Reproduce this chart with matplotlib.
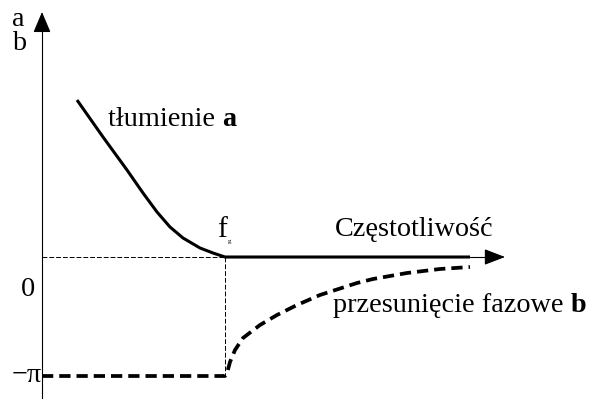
import matplotlib
matplotlib.use("Agg")
import matplotlib.pyplot as plt

# Schematic attenuation (a) and phase shift (b) versus frequency
# x: frequency (arbitrary units), axis origin at 0; fg at 183
f_att = [35, 61, 85, 101, 115, 128, 141, 158, 171, 183, 428]
att = [157, 120, 87, 64, 45, 30, 19, 9, 4, 0, 0]

f_phase = [0, 183, 185, 188, 193, 201, 218, 235, 255, 278, 315, 331, 365, 398, 428]
phase = [-119, -119, -116, -105, -93, -81, -68, -58, -48, -38, -26, -22, -16, -12, -10]

f_g = 183
level_minus_pi = -119

plt.rcParams['font.family'] = ['Liberation Serif', 'DejaVu Serif']
fig = plt.figure(figsize=(5.93, 4.01), dpi=100)
ax = fig.add_axes([0, 0, 1, 1])
ax.set_xlim(-42, 551)
ax.set_ylim(-144, 257)
ax.axis('off')

# axes with arrow heads
ax.plot([0, 0], [-141, 232], color='black', lw=0.8)
ax.annotate('', xy=(0, 245), xytext=(0, 228),
            arrowprops=dict(arrowstyle='-|>,head_length=1.3,head_width=0.55',
                            color='black', lw=0.8, shrinkA=0, shrinkB=0))
ax.plot([f_g, 450], [0, 0], color='black', lw=0.8)
ax.annotate('', xy=(463, 0), xytext=(446, 0),
            arrowprops=dict(arrowstyle='-|>,head_length=1.3,head_width=0.5',
                            color='black', lw=0.8, shrinkA=0, shrinkB=0))

# guide lines at fg
ax.plot([0, f_g], [0, 0], color='black', lw=0.7, dashes=(5, 2))
ax.plot([f_g, f_g], [0, level_minus_pi], color='black', lw=0.7, dashes=(5, 2))

# curves
ax.plot(f_att, att, color='black', lw=2.2, solid_capstyle='butt')
ax.plot(f_phase, phase, color='black', lw=2.7, dashes=(3, 1.6))

fs = 20.3


def label_with_bold(x, y, plain, bold):
    t = ax.text(x, y, plain, fontsize=fs, ha='left', va='center')
    fig.canvas.draw()
    bb = t.get_window_extent()
    xb, _ = ax.transData.inverted().transform((bb.x1, 0))
    ax.text(xb, y, bold, fontsize=fs, ha='left', va='center', fontweight='bold')


ax.text(-30, 237, 'a', fontsize=fs, ha='left', va='center')
ax.text(-30, 213, 'b', fontsize=fs, ha='left', va='center')
ax.text(-21, -32, '0', fontsize=fs, ha='left', va='center')
ax.text(-30, -119, '\u2212\u03c0', fontsize=fs, ha='left', va='center')
label_with_bold(66, 138, 'tłumienie ', 'a')
ax.text(175, 27, 'f', fontsize=fs + 1, ha='left', va='center')
ax.text(186, 15, 'g', fontsize=5, ha='left', va='center')
ax.text(293, 27, 'Częstotliwość', fontsize=fs, ha='left', va='center')
label_with_bold(291, -49, 'przesunięcie fazowe ', 'b')

fig.savefig('out.png', dpi=100)
